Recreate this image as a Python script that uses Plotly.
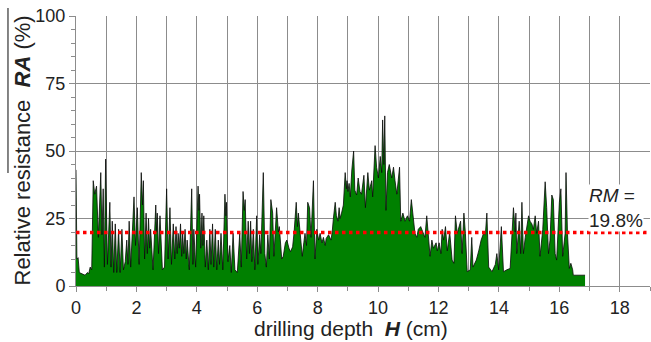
import plotly.graph_objects as go

depth_cm = [
 0.00,0.03,0.07,0.11,0.20,0.30,0.38,0.42,0.47,0.52,0.57,0.62,0.68,0.74,0.82,0.86,0.90,0.94,0.98,1.04,
 1.12,1.16,1.20,1.25,1.30,1.35,1.41,1.46,1.52,1.57,1.63,1.68,1.72,1.76,1.81,1.92,1.97,2.03,2.09,2.16,
 2.20,2.23,2.27,2.32,2.36,2.40,2.44,2.47,2.55,2.64,2.67,2.69,2.73,2.78,2.86,2.93,3.00,3.05,3.11,3.16,
 3.22,3.27,3.31,3.35,3.38,3.42,3.46,3.50,3.53,3.57,3.61,3.65,3.68,3.75,3.83,3.87,3.90,3.96,4.04,4.07,
 4.09,4.13,4.17,4.20,4.23,4.28,4.33,4.38,4.43,4.47,4.52,4.56,4.61,4.66,4.71,4.75,4.80,4.86,4.93,4.96,
 4.98,5.03,5.09,5.14,5.20,5.26,5.34,5.42,5.47,5.53,5.57,5.60,5.65,5.70,5.74,5.78,5.82,5.87,5.92,5.98,
 6.02,6.08,6.12,6.20,6.25,6.30,6.35,6.40,6.45,6.51,6.55,6.60,6.64,6.70,6.73,6.81,6.86,6.93,6.98,7.05,
 7.10,7.17,7.22,7.29,7.33,7.36,7.41,7.49,7.54,7.58,7.63,7.67,7.73,7.78,7.86,7.91,7.97,8.03,8.08,8.14,
 8.19,8.25,8.28,8.36,8.44,8.48,8.52,8.58,8.62,8.67,8.71,8.74,8.79,8.85,8.91,8.95,8.97,9.00,9.04,9.08,
 9.13,9.19,9.23,9.29,9.34,9.40,9.45,9.53,9.58,9.66,9.71,9.79,9.82,9.90,9.95,10.01,10.07,10.12,10.15,10.19,
 10.22,10.26,10.31,10.37,10.45,10.51,10.56,10.62,10.71,10.75,10.82,10.89,10.97,11.04,11.10,11.17,11.22,11.28,11.33,11.41,
 11.48,11.55,11.61,11.67,11.72,11.78,11.83,11.92,11.96,12.02,12.08,12.12,12.17,12.23,12.29,12.37,12.45,12.51,12.56,12.62,
 12.67,12.73,12.78,12.84,12.89,12.95,13.05,13.10,13.14,13.25,13.33,13.41,13.49,13.55,13.60,13.66,13.77,13.88,13.93,13.99,
 14.08,14.15,14.26,14.37,14.48,14.54,14.56,14.59,14.67,14.72,14.76,14.81,14.87,14.92,14.98,15.03,15.09,15.14,15.20,15.25,
 15.31,15.36,15.45,15.53,15.58,15.64,15.69,15.75,15.80,15.86,15.91,16.00,16.05,16.11,16.19,16.22,16.27,16.33,16.38,16.44,
 16.46,16.85,
]
ra_pct = [
 43,10,10.5,5,4.5,4,5,4.5,7,6,39,34,37,18,42,19,36,7,47,8,
 31,7,24,5,23,5,21,5,21,6,9,17,8,24,7,33,15,29,8,42,
 30,39,10,27,12,25,14,21,6,30,20,27,12,26,6,7,36,10,29,8,
 23,10,22,12,19.5,14,23,11,19.5,12,21,10,17,6,36,8,21,7,37,28,
 34,14,27,15,26,7,17,6,21,8,23,7,21,6,17,8,19.5,6,34,26,
 31,9,15,5,19.5,6,5,19.5,7,35,28,32,10,24,12,24,9,21,6,26,
 8,19,12,42,12,7,19,10,32,27,11,22,29,20,22,10,11,16,17,14,
 12.7,14.5,20,31,22,27,19.5,11,16,19.5,15,31,29,18,39,10,21,17,19.5,16,
 18,15,17.6,19,17,20,25,31,26,24,29,25,27,30,42,36,39,35,38,33,
 43,50,35.5,33.7,40,35,34,41,29,42,35.5,39,33,52,44,40,48,42,61.5,45,
 63,28,42,45,40,44,39,34,44,24,27,24,26,24,32,24,19.5,18,21,22,
 20,18,26,18,11,17,14,16,13,16,12,21,17,22,13,20,9.6,8.4,26,19.5,
 22,24,12,27,19.5,5.3,6,18,7,9.6,13,17,19.5,19,27,7,5.3,8,12,6,
 22,5.3,6,6.5,29,20,27,12,24,12,31,12,18,22,26,24,23,21,26,19.5,
 24,11,21,38.6,29,12,17,33.7,32,12,9.6,31,36,11,19.5,42,19,6.5,8.4,6,
 4,4,
]

rm_x = [0, 19]
rm_y = [19.8, 19.8]

x_ticks = [0, 2, 4, 6, 8, 10, 12, 14, 16, 18]
y_ticks = [0, 25, 50, 75, 100]

FONT = "Liberation Sans, Arial, sans-serif"
TXT = "#222222"
GRID = "#8c8c8c"

fig = go.Figure()
fig.add_trace(go.Scatter(
    x=depth_cm, y=ra_pct, mode="lines", fill="tozeroy",
    fillcolor="#008000", line=dict(color="#0a0a0a", width=0.8),
    hoverinfo="skip", showlegend=False))
fig.add_trace(go.Scatter(
    x=rm_x, y=rm_y, mode="lines",
    line=dict(color="#ff0000", width=3.5, dash="3.5px,3.5px"),
    hoverinfo="skip", showlegend=False))

fig.add_annotation(
    x=16.95, y=29.0, xref="x", yref="y", xanchor="left", yanchor="middle",
    text="<i>RM</i> =<br>19.8%", showarrow=False, align="left",
    font=dict(family=FONT, size=19, color=TXT), bgcolor="white", borderpad=0)

# axis titles
fig.add_annotation(
    x=0.479, y=-0.156, xref="paper", yref="paper", xanchor="center", yanchor="middle",
    text="drilling depth  <b><i>H</i></b> (cm)", showarrow=False,
    font=dict(family=FONT, size=21, color=TXT))
fig.add_annotation(
    x=-0.094, y=0.502, xref="paper", yref="paper", xanchor="center", yanchor="middle",
    text="Relative resistance  <b><i>RA</i></b> (%)", showarrow=False, textangle=-90,
    font=dict(family=FONT, size=22, color=TXT))

# overline above RA in y title
fig.add_shape(type="line", xref="paper", yref="paper",
              x0=-0.1185, x1=-0.1185, y0=0.4185, y1=1.0296,
              line=dict(color="#333333", width=1.2))

fig.update_layout(
    width=651, height=342,
    margin=dict(l=76, r=1, t=16, b=56, autoexpand=False),
    paper_bgcolor="white", plot_bgcolor="white",
    font=dict(family=FONT, size=18, color=TXT),
    xaxis=dict(
        range=[0, 19], tickvals=x_ticks, ticktext=[str(v) for v in x_ticks],
        showgrid=True, gridcolor=GRID, gridwidth=1, automargin=False,
        ticks="outside", ticklen=5, tickcolor=GRID,
        showline=True, linecolor=GRID, linewidth=1, zeroline=False,
        minor=dict(dtick=1, tick0=0, showgrid=True, gridcolor=GRID, gridwidth=1,
                   ticks="outside", ticklen=4, tickcolor=GRID),
        tickfont=dict(size=18, color=TXT),
    ),
    yaxis=dict(
        range=[0, 100], tickvals=y_ticks, ticktext=[str(v) for v in y_ticks],
        showgrid=True, gridcolor=GRID, gridwidth=1, automargin=False,
        ticks="outside", ticklen=6, tickcolor=GRID,
        showline=True, linecolor=GRID, linewidth=1, zeroline=False,
        minor=dict(dtick=5, tick0=0, showgrid=False,
                   ticks="outside", ticklen=4, tickcolor=GRID),
        tickfont=dict(size=18, color=TXT),
    ),
)

fig.write_html("out.html", config={"displayModeBar": False},
               post_script="document.body.style.margin='0';document.body.style.overflow='hidden';")
